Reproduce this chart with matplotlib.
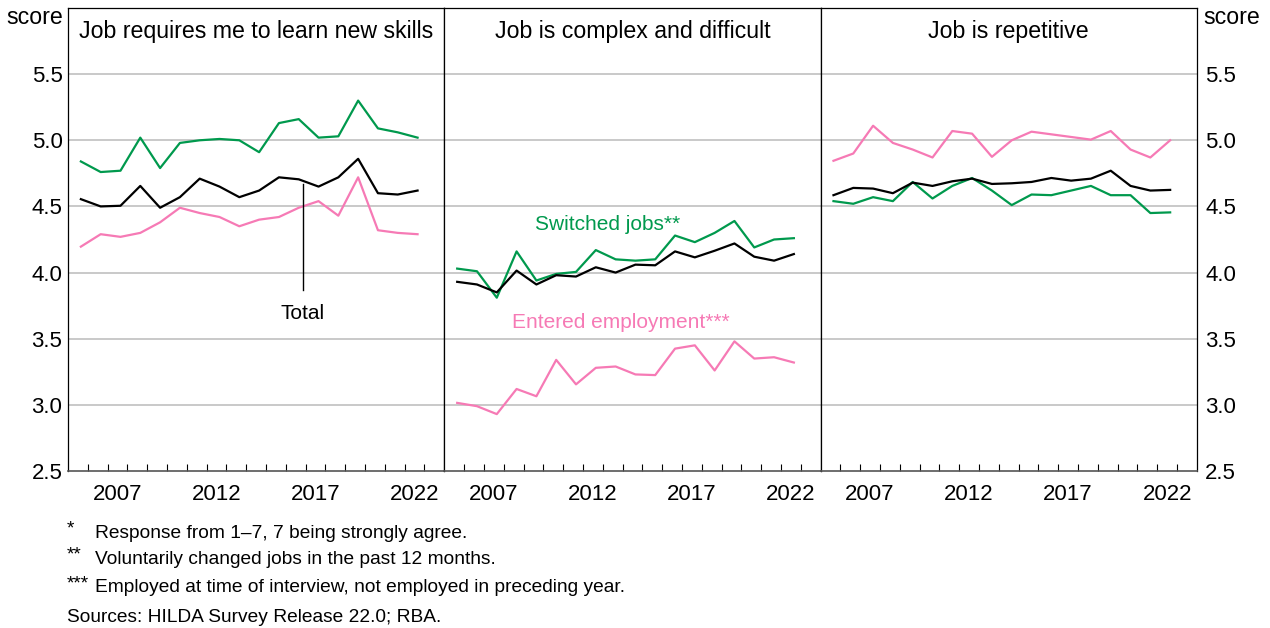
import numpy as np
import matplotlib.pyplot as plt

plt.rcParams['font.family'] = ['Liberation Sans', 'DejaVu Sans']

# survey years (HILDA waves)
years = np.arange(2005, 2023)

titles = ["Job requires me to learn new skills",
          "Job is complex and difficult",
          "Job is repetitive"]

# panel 1: job requires me to learn new skills
skills_total = [4.555, 4.50, 4.505, 4.655, 4.49, 4.57, 4.71, 4.65, 4.57,
                4.62, 4.72, 4.705, 4.65, 4.72, 4.86, 4.60, 4.59, 4.62]
skills_switched = [4.84, 4.76, 4.77, 5.02, 4.79, 4.98, 5.00, 5.01, 5.00,
                   4.91, 5.13, 5.16, 5.02, 5.03, 5.30, 5.09, 5.06, 5.02]
skills_entered = [4.196, 4.29, 4.27, 4.30, 4.38, 4.49, 4.45, 4.42, 4.35,
                  4.40, 4.42, 4.49, 4.54, 4.43, 4.72, 4.32, 4.30, 4.29]

# panel 2: job is complex and difficult
complex_total = [3.93, 3.91, 3.85, 4.015, 3.91, 3.98, 3.97, 4.04, 4.00,
                 4.06, 4.055, 4.16, 4.115, 4.165, 4.22, 4.12, 4.09, 4.14]
complex_switched = [4.03, 4.01, 3.81, 4.16, 3.94, 3.99, 4.005, 4.17, 4.10,
                    4.09, 4.10, 4.28, 4.23, 4.30, 4.39, 4.19, 4.25, 4.26]
complex_entered = [3.015, 2.99, 2.93, 3.12, 3.065, 3.34, 3.155, 3.28, 3.29,
                   3.23, 3.225, 3.425, 3.45, 3.26, 3.48, 3.35, 3.36, 3.32]

# panel 3: job is repetitive
repet_total = [4.585, 4.64, 4.635, 4.60, 4.68, 4.655, 4.69, 4.71, 4.67,
               4.675, 4.685, 4.715, 4.695, 4.71, 4.77, 4.655, 4.62, 4.625]
repet_switched = [4.54, 4.52, 4.57, 4.54, 4.685, 4.56, 4.655, 4.715, 4.62,
                  4.51, 4.59, 4.585, 4.62, 4.655, 4.585, 4.585, 4.45, 4.455]
repet_entered = [4.845, 4.90, 5.11, 4.98, 4.93, 4.87, 5.07, 5.05, 4.875,
                 5.00, 5.065, 5.045, 5.025, 5.005, 5.07, 4.93, 4.87, 5.00]

yticks = [2.5, 3.0, 3.5, 4.0, 4.5, 5.0, 5.5]
year_labels = [2007, 2012, 2017, 2022]

footnotes = [("*", "Response from 1\u20137, 7 being strongly agree."),
             ("**", "Voluntarily changed jobs in the past 12 months."),
             ("***", "Employed at time of interview, not employed in preceding year.")]
source = "Sources: HILDA Survey Release 22.0; RBA."

green = "#00994d"
pink = "#f67ab5"
fs = 16
fs_title = 16.7
fs_note = 13.8

fig = plt.figure(figsize=(12.7, 6.28), dpi=100)

panels = [(skills_total, skills_switched, skills_entered),
          (complex_total, complex_switched, complex_entered),
          (repet_total, repet_switched, repet_entered)]

left = 68 / 1270
w = 376.3 / 1270
bottom = 1 - 471 / 628
h = (471 - 8) / 628
xpos = years + 0.65  # interviews mostly in the second half of the year

axes = []
for i, (tot, sw, ent) in enumerate(panels):
    ax = fig.add_axes([left + i * w, bottom, w, h])
    axes.append(ax)
    ax.set_xlim(2005, 2024)
    ax.set_ylim(2.5, 6.0)
    for y in yticks[1:]:
        ax.axhline(y, color="#c0c0c0", lw=1.2, zorder=0)
    ax.plot(xpos, ent, color=pink, lw=1.6)
    ax.plot(xpos, sw, color=green, lw=1.6)
    ax.plot(xpos, tot, color="black", lw=1.6)
    ax.text(0.5, 0.95, titles[i], transform=ax.transAxes, ha="center",
            va="center", fontsize=fs_title)

    ax.set_xticks(np.arange(2006, 2024), minor=True)
    ax.set_xticks([y + 0.5 for y in year_labels])
    ax.set_xticklabels([str(y) for y in year_labels], fontsize=fs)
    ax.tick_params(axis="x", which="major", length=0, pad=9)
    ax.tick_params(axis="x", which="minor", direction="in", length=5,
                   width=0.8, color="black")
    ax.set_yticks(yticks)
    ax.tick_params(axis="y", length=0, labelsize=fs, pad=4)
    if i == 0:
        ax.tick_params(axis="y", labelleft=True, labelright=False)
    elif i == 2:
        ax.tick_params(axis="y", labelleft=False, labelright=True, pad=6)
    else:
        ax.tick_params(axis="y", labelleft=False)
    for s in ax.spines.values():
        s.set_color("black")
        s.set_linewidth(0.9)
    ax.spines["bottom"].set_color("#555555")
    ax.spines["bottom"].set_linewidth(1.2)

# annotations
axes[0].plot([2016.85, 2016.85], [3.87, 4.67], color="black", lw=1)
axes[0].text(2016.85, 3.69, "Total", ha="center", va="center", fontsize=15)
axes[1].text(2013.25, 4.36, "Switched jobs**", color=green, ha="center",
             va="center", fontsize=15)
axes[1].text(2013.9, 3.62, "Entered employment***", color=pink, ha="center",
             va="center", fontsize=15)

fig.text(63 / 1270, 1 - 18 / 628, "score", ha="right", va="center", fontsize=fs_title)
fig.text(1203 / 1270, 1 - 18 / 628, "score", ha="left", va="center", fontsize=fs_title)

ys = [533, 559, 588]
for (sym, txt), yy in zip(footnotes, ys):
    fig.text(67 / 1270, 1 - (yy - 4) / 628, sym, ha="left", va="center", fontsize=fs_note)
    fig.text(95 / 1270, 1 - yy / 628, txt, ha="left", va="center", fontsize=fs_note)
fig.text(67 / 1270, 1 - 617 / 628, source, ha="left", va="center", fontsize=fs_note)

fig.savefig("out.png", dpi=100)
